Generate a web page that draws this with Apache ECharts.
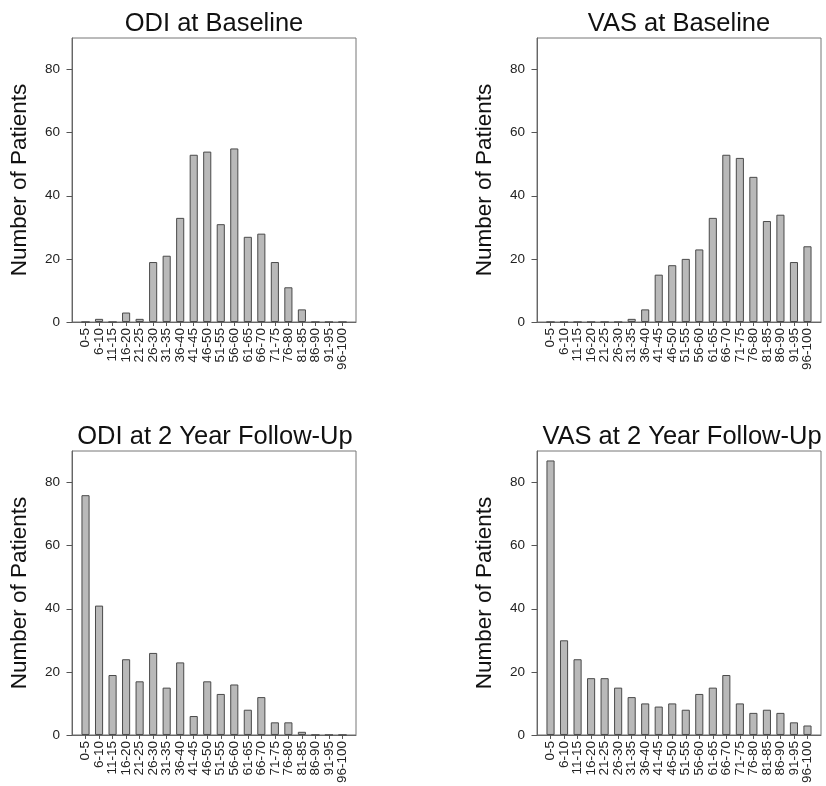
<!DOCTYPE html>
<html>
<head>
<meta charset="utf-8">
<script src="https://cdn.jsdelivr.net/npm/echarts@6/dist/echarts.min.js"></script>
<style>
  html, body { margin: 0; padding: 0; background: #fff; }
  #chart { width: 826px; height: 786px; }
</style>
</head>
<body>
<div id="chart"></div>
<script>
// ---- data ----
const categories = ['0-5','6-10','11-15','16-20','21-25','26-30','31-35','36-40','41-45','46-50',
  '51-55','56-60','61-65','66-70','71-75','76-80','81-85','86-90','91-95','96-100'];
const odiBaseline = [0,1,0,3,1,19,21,33,53,54,31,55,27,28,19,11,4,0,0,0];
const vasBaseline = [0,0,0,0,0,0,1,4,15,18,20,23,33,53,52,46,32,34,19,24];
const odiFollowUp = [76,41,19,24,17,26,15,23,6,17,13,16,8,12,4,4,1,0,0,0];
const vasFollowUp = [87,30,24,18,18,15,12,10,9,10,8,13,15,19,10,7,8,7,4,3];
const yTicks = [0,20,40,60,80];
const titles = ['ODI at Baseline','VAS at Baseline','ODI at 2 Year Follow-Up','VAS at 2 Year Follow-Up'];
const yName = 'Number of Patients';

// ---- layout ----
const FONT = 'Liberation Sans, Arial, sans-serif';
const panels = [
  { values: odiBaseline, left: 72, top: 38, titleX: 214, titleTop: 10.5 },
  { values: vasBaseline, left: 537, top: 38, titleX: 679, titleTop: 10.5 },
  { values: odiFollowUp, left: 72, top: 451, titleX: 215, titleTop: 423.5 },
  { values: vasFollowUp, left: 537, top: 451, titleX: 682, titleTop: 423.5 }
];
const W = 284, H = 284;
// axis slots: an empty slot at each end gives a full category gap against the frame
const axisSlots = [''].concat(categories, ['']);
const nSlots = axisSlots.length;

const option = {
  animation: false,
  backgroundColor: '#ffffff',
  title: panels.map((p, i) => ({
    text: titles[i], left: p.titleX, top: p.titleTop, textAlign: 'center', padding: 0,
    textStyle: { fontFamily: FONT, fontSize: 25.5, fontWeight: 'normal', color: '#111' }
  })),
  grid: panels.map(p => ({
    left: p.left, top: p.top, width: W, height: H, containLabel: false,
    show: true, borderColor: '#777', borderWidth: 1, backgroundColor: 'transparent'
  })),
  xAxis: panels.map((p, i) => ({
    gridIndex: i, type: 'category', data: axisSlots, boundaryGap: false,
    splitLine: { show: false },
    axisLine: { show: true, onZero: false, lineStyle: { color: '#666', width: 1 } },
    axisTick: { show: true, length: 4, interval: (idx) => idx > 0 && idx < nSlots - 1,
      lineStyle: { color: '#555' } },
    axisLabel: {
      interval: 0, rotate: 90, margin: 6,
      fontFamily: FONT, fontSize: 13.5, color: '#222'
    }
  })),
  yAxis: panels.map((p, i) => ({
    gridIndex: i, type: 'value', min: 0, max: 90,
    name: yName, nameLocation: 'middle', nameRotate: 90, nameGap: 41,
    nameTextStyle: { fontFamily: FONT, fontSize: 22.5, color: '#111' },
    splitLine: { show: false },
    axisLine: { show: true, onZero: false, lineStyle: { color: '#666', width: 1 } },
    axisTick: { show: true, length: 5.5, customValues: yTicks, lineStyle: { color: '#555' } },
    axisLabel: { customValues: yTicks, margin: 12, showMinLabel: true, showMaxLabel: true,
      fontFamily: FONT, fontSize: 13.5, color: '#222' }
  })),
  series: panels.map((p, i) => ({
    type: 'bar', xAxisIndex: i, yAxisIndex: i,
    data: p.values.map((v, k) => [categories[k], v]),
    barWidth: '60%',
    itemStyle: { color: '#b9b9b9', borderColor: '#4a4a4a', borderWidth: 1 },
    emphasis: { disabled: true }
  }))
};

const chart = echarts.init(document.getElementById('chart'), null, { renderer: 'canvas' });
chart.setOption(option);
</script>
</body>
</html>
